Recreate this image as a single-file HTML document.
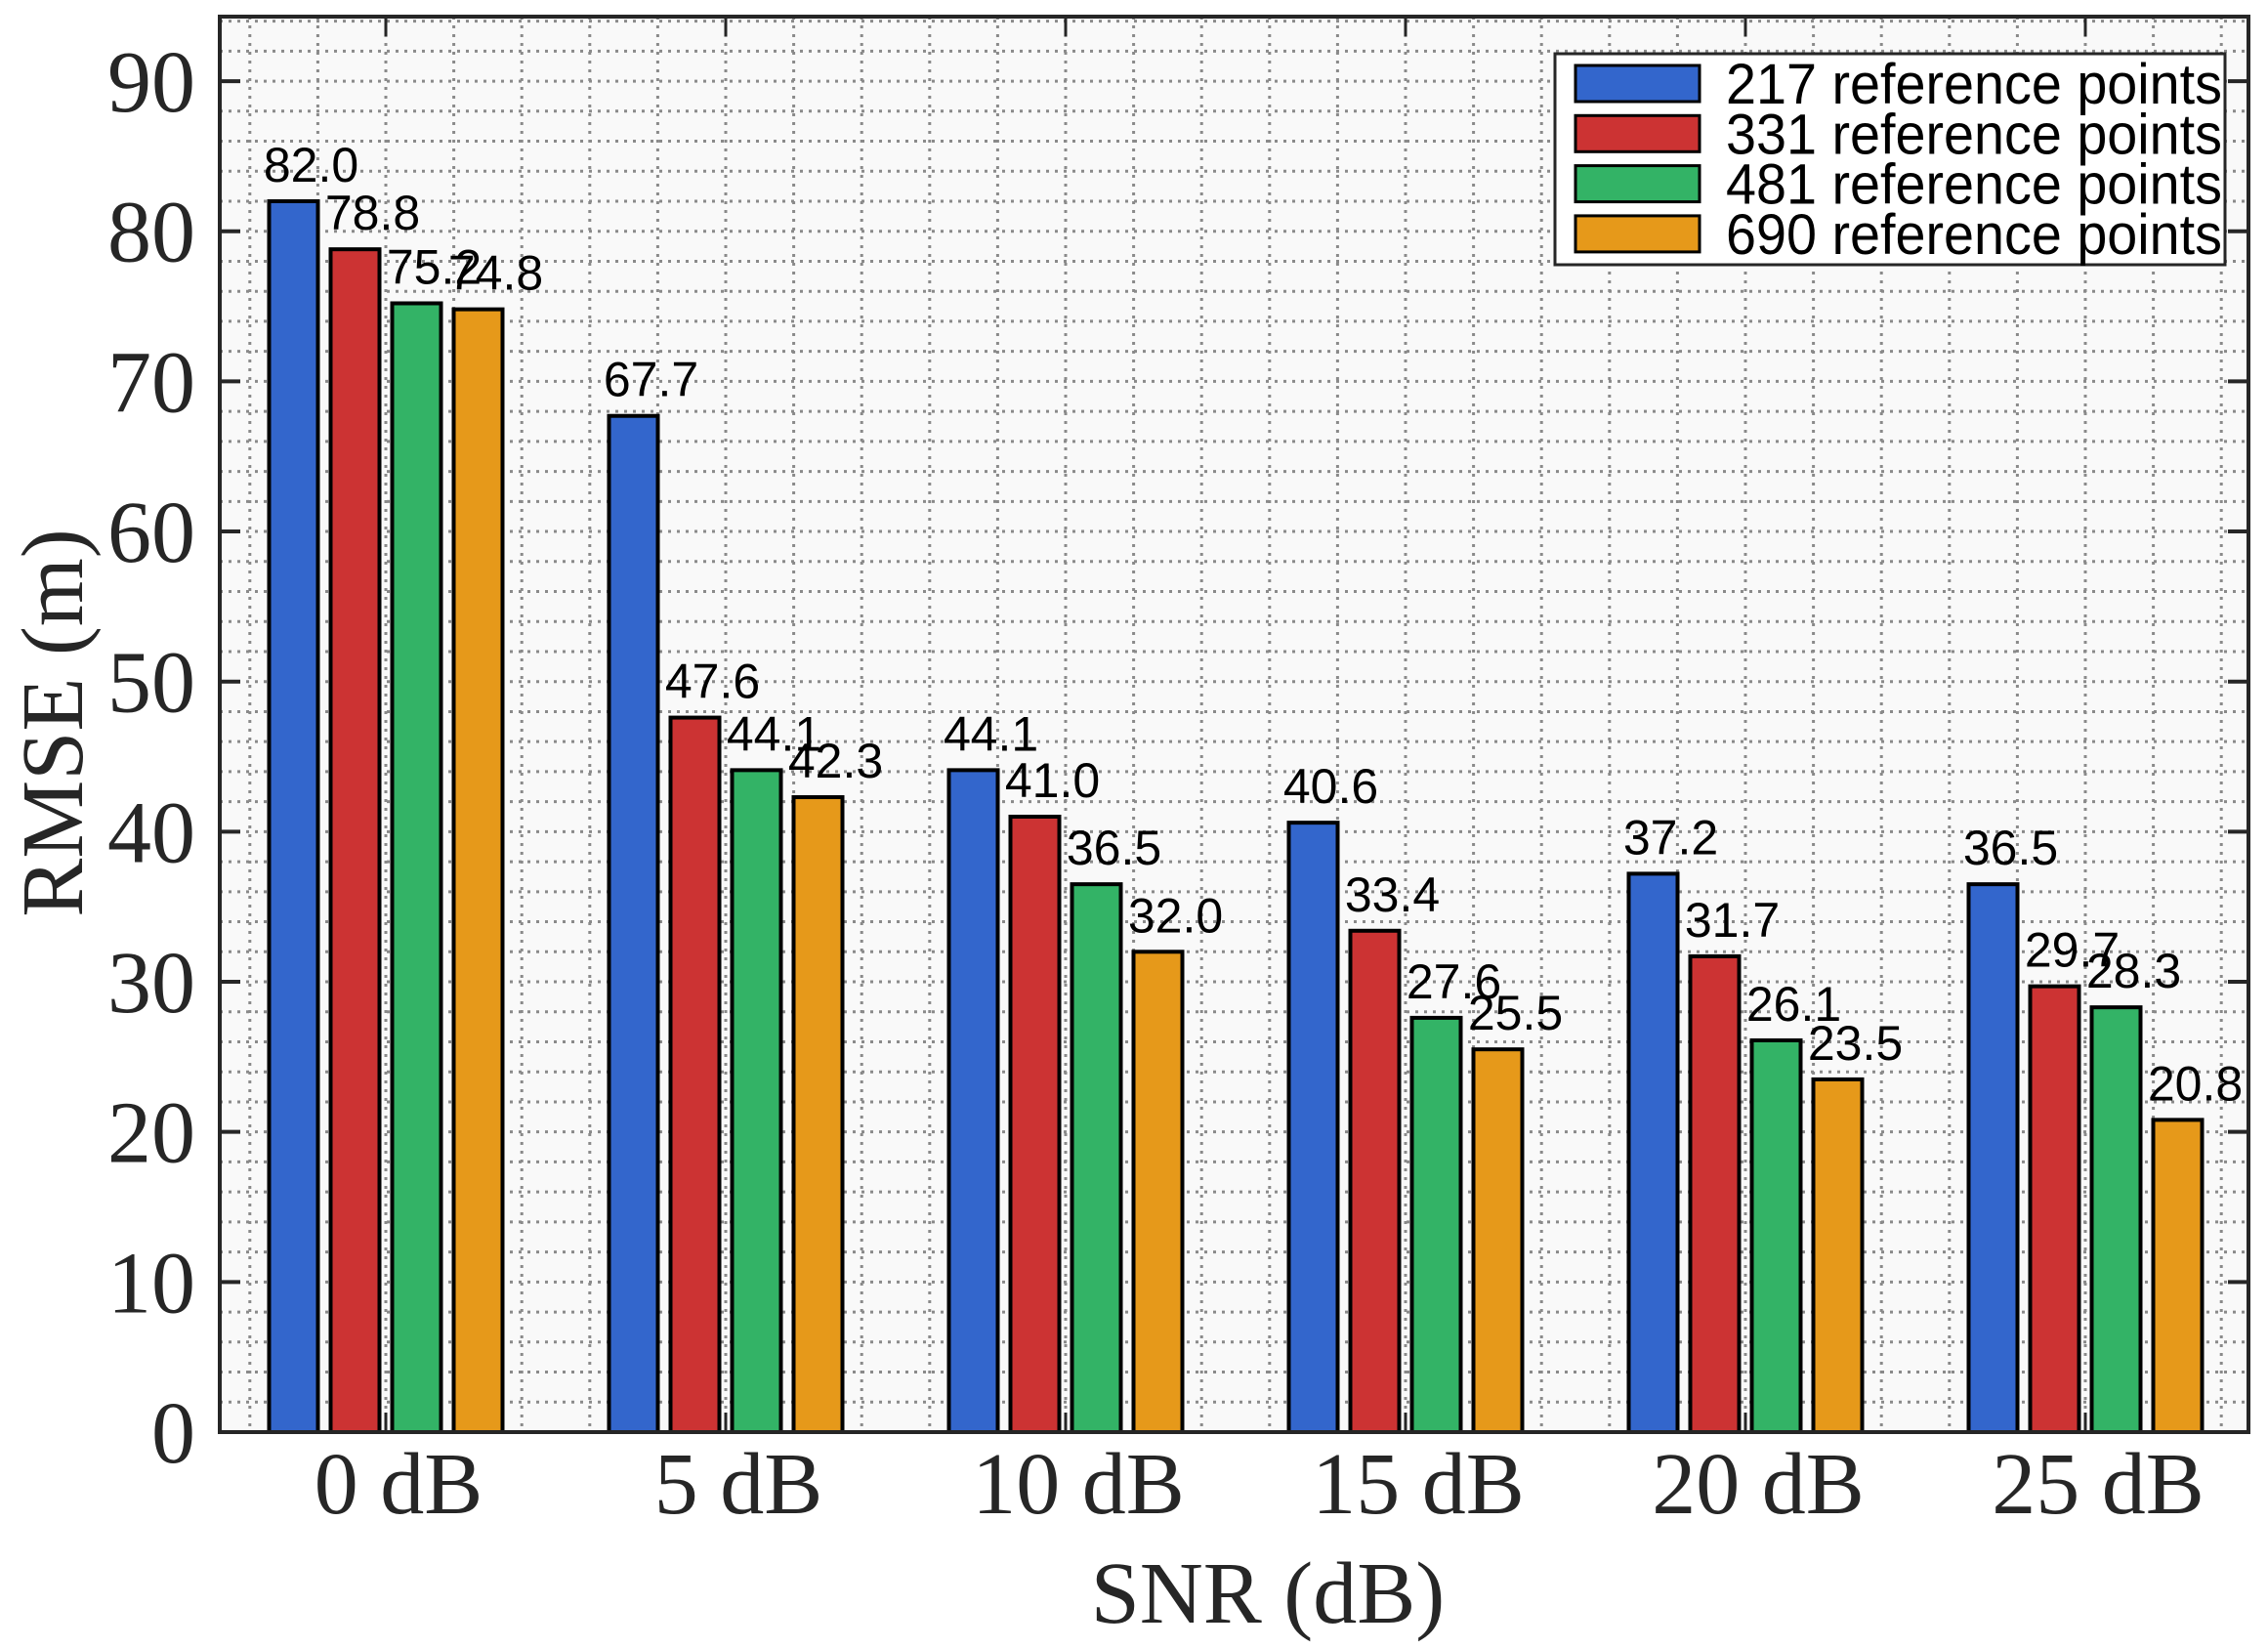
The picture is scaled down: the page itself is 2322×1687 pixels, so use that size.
<!DOCTYPE html>
<html><head><meta charset="utf-8"><style>
html,body{margin:0;padding:0;background:#fff;}
svg{display:block;}
</style></head><body>
<svg id="chart" width="2322" height="1687" viewBox="0 0 2322 1687" xmlns="http://www.w3.org/2000/svg">
<rect x="225" y="17" width="2077" height="1449" fill="#f9f9f9"/>
<g id="grid"></g>
<g id="bars"></g>
<g id="labels"></g>
<rect x="225" y="17" width="2077" height="1449" fill="none" stroke="#262626" stroke-width="4"/>
<g id="ticks"></g>
<text transform="translate(84,740) rotate(-90)" text-anchor="middle" font-family="Liberation Serif, serif" font-size="90" fill="#262626">RMSE (m)</text>
<text x="1298" y="1661" text-anchor="middle" font-family="Liberation Serif, serif" font-size="90" fill="#262626">SNR (dB)</text>
<g id="legend">
<rect x="1592" y="55" width="686" height="216" fill="#fff" stroke="#262626" stroke-width="3"/>
</g>
</svg>
<script>
const categories = ["0 dB","5 dB","10 dB","15 dB","20 dB","25 dB"];
const seriesNames = ["217 reference points","331 reference points","481 reference points","690 reference points"];
const s217 = [82.0, 67.7, 44.1, 40.6, 37.2, 36.5];
const s331 = [78.8, 47.6, 41.0, 33.4, 31.7, 29.7];
const s481 = [75.2, 44.1, 36.5, 27.6, 26.1, 28.3];
const s690 = [74.8, 42.3, 32.0, 25.5, 23.5, 20.8];
const yTicks = [0,10,20,30,40,50,60,70,80,90];

const series = [s217, s331, s481, s690];
const colors = ["#3366cc","#cc3333","#33b366","#e6991a"];
const NS = "http://www.w3.org/2000/svg";
const L=225, R=2302, T=17, B=1466, yMax=94.3;
const groupPitch = 348, firstCenter = 395, barPitch = 63, barW = 50;
function y(v){ return B - v/yMax*(B-T); }
function xc(i){ return firstCenter + i*groupPitch; }
function mk(tag, attrs, parent){ const e=document.createElementNS(NS,tag); for(const k in attrs) e.setAttribute(k,attrs[k]); parent.appendChild(e); return e; }
const grid=document.getElementById('grid'), bars=document.getElementById('bars'), labels=document.getElementById('labels'), ticks=document.getElementById('ticks'), legend=document.getElementById('legend');
for(let v=0; v<=yMax; v+=2){
  const l=mk('line',{x1:L,x2:R,y1:y(v),y2:y(v),stroke:'#8a8a8a','stroke-width':3,'stroke-dasharray':'3 6'},grid);
  
  
}
const minor = groupPitch/5;
for(let x=firstCenter - Math.floor((firstCenter-L)/minor)*minor; x<R; x+=minor){
  const l=mk('line',{x1:x,x2:x,y1:T,y2:B,stroke:'#8a8a8a','stroke-width':3,'stroke-dasharray':'3 6'},grid);
  
  
}
categories.forEach((c,i)=>{
  series.forEach((s,j)=>{
    const cx = xc(i) + (j-1.5)*barPitch;
    const r=mk('rect',{x:cx-barW/2,y:y(s[i]),width:barW,height:B-y(s[i]),fill:colors[j],stroke:'#000','stroke-width':4},bars);
    
    
    const t=mk('text',{x:cx+18,y:y(s[i])-20,'text-anchor':'middle','font-family':'Liberation Sans, sans-serif','font-size':50,fill:'#000'},labels);
    t.textContent=s[i].toFixed(1);
    
    
  });
  const tk=mk('line',{x1:xc(i),x2:xc(i),y1:T,y2:T+20,stroke:'#262626','stroke-width':3},ticks);
  
  
  const tb=mk('line',{x1:xc(i),x2:xc(i),y1:B,y2:B-20,stroke:'#262626','stroke-width':3},ticks);
  
  
  const tl=mk('text',{x:xc(i)+13,y:1549,'text-anchor':'middle','font-family':'Liberation Serif, serif','font-size':90,fill:'#262626'},ticks);
  tl.textContent=c;
  
  
});
yTicks.forEach(v=>{
  const a=mk('line',{x1:L,x2:L+21,y1:y(v),y2:y(v),stroke:'#262626','stroke-width':4},ticks);
  
  
  const b=mk('line',{x1:R-21,x2:R,y1:y(v),y2:y(v),stroke:'#262626','stroke-width':4},ticks);
  
  
  const t=mk('text',{x:200,y:y(v)+31,'text-anchor':'end','font-family':'Liberation Serif, serif','font-size':90,fill:'#262626'},ticks);
  t.textContent=v;
  
  
});
seriesNames.forEach((n,j)=>{
  const ry = 67 + j*51.3;
  const sw=mk('rect',{x:1613,y:ry,width:127,height:37,fill:colors[j],stroke:'#000','stroke-width':3},legend);
  
  
  const t=mk('text',{x:1767,y:ry+39,'font-family':'Liberation Sans, sans-serif','font-size':58,fill:'#000',textLength:508,lengthAdjust:'spacingAndGlyphs'},legend);
  t.textContent=n;
  
  
});
</script>
</body></html>
